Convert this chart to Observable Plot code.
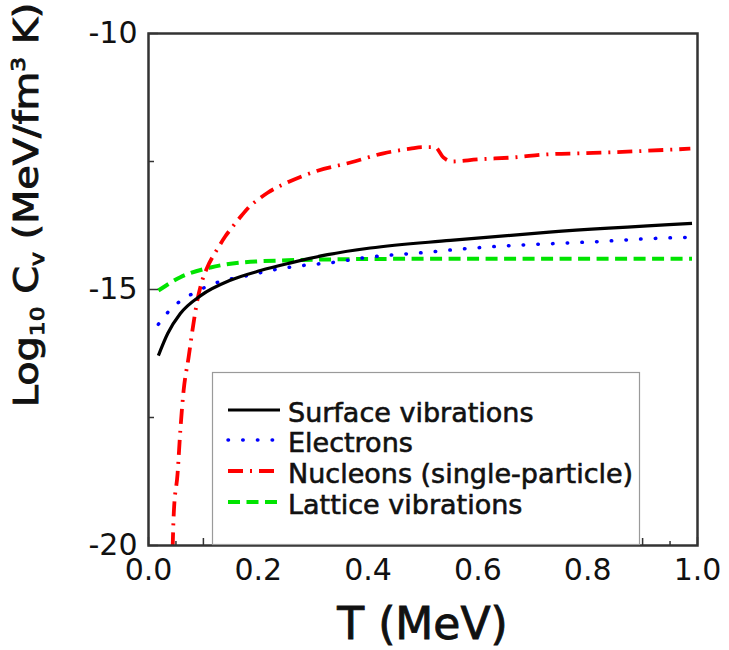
<!DOCTYPE html>
<html><head><meta charset="utf-8">
<script src="https://cdn.jsdelivr.net/npm/d3@7"></script>
<script src="https://cdn.jsdelivr.net/npm/@observablehq/plot@0.6"></script>
<style>html,body{margin:0;padding:0;background:#fff;} svg{display:block}</style>
</head><body><div id="chart"></div>
<script>
// ---- data ----
const surfaceT = [0.018, 0.035, 0.058, 0.095, 0.149, 0.204, 0.259, 0.326, 0.404, 0.55, 0.73, 0.99];
const surfaceV = [-16.29, -15.86, -15.47, -15.12, -14.82, -14.63, -14.48, -14.32, -14.19, -14.04, -13.88, -13.71];

const electronsT = [0.018, 0.035, 0.055, 0.077, 0.126, 0.18, 0.231, 0.282, 0.337, 0.40, 0.50, 0.581, 0.663, 0.745, 0.827, 0.905, 0.987];
const electronsV = [-15.68, -15.45, -15.25, -15.10, -14.86, -14.73, -14.61, -14.53, -14.47, -14.37, -14.28, -14.20, -14.14, -14.10, -14.06, -14.01, -13.98];

const nucleonsT = [0.044, 0.046, 0.053, 0.058, 0.064, 0.073, 0.080, 0.089, 0.098, 0.107, 0.126, 0.140, 0.155, 0.170, 0.186, 0.200, 0.217, 0.253, 0.308, 0.368, 0.428, 0.477, 0.500, 0.522, 0.537, 0.553, 0.599, 0.665, 0.727, 0.787, 0.847, 0.909, 0.987];
const nucleonsV = [-20.04, -19.38, -18.59, -17.75, -16.97, -16.33, -15.80, -15.21, -14.82, -14.57, -14.20, -13.96, -13.75, -13.55, -13.36, -13.24, -13.11, -12.91, -12.68, -12.52, -12.34, -12.25, -12.22, -12.22, -12.42, -12.50, -12.46, -12.42, -12.36, -12.34, -12.32, -12.29, -12.25];

const latticeT = [0.018, 0.058, 0.113, 0.173, 0.253, 0.35, 0.5, 0.7, 0.99];
const latticeV = [-15.02, -14.76, -14.57, -14.47, -14.43, -14.41, -14.40, -14.40, -14.40];

const seriesNames = ["Surface vibrations", "Electrons", "Nucleons (single-particle)", "Lattice vibrations"];

const xTickLabels = [0, 0.2, 0.4, 0.6, 0.8, 1.0];
const xTicksMid = [0.1, 0.3, 0.5, 0.7, 0.9];
const xTicksMinor = [0.05, 0.15, 0.25, 0.35, 0.45, 0.55, 0.65, 0.75, 0.85, 0.95];
const yTickLabels = [-10, -15, -20];
const yTicksMinor = [-12.5, -17.5];

// ---- layout ----
const W = 729, H = 650, mL = 148, mR = 32, mT = 33, mB = 105;
const innerW = W - mL - mR, innerH = H - mT - mB;
const FONT = "DejaVu Sans";
const INK = "#111";

const rows = (T, V) => T.map((t, i) => ({T: t, V: V[i]}));
const styles = [
  {stroke: "#000000", strokeWidth: 3.2, strokeDasharray: null, strokeLinecap: "butt"},
  {stroke: "#0000ff", strokeWidth: 3.5, strokeDasharray: "0.5 14.2", strokeLinecap: "round"},
  {stroke: "#ff0000", strokeWidth: 3.8, strokeDasharray: "15 7 2 7", strokeLinecap: "butt"},
  {stroke: "#00e400", strokeWidth: 4, strokeDasharray: "12 6.5", strokeLinecap: "butt"}
];
const datasets = [rows(surfaceT, surfaceV), rows(electronsT, electronsV), rows(nucleonsT, nucleonsV), rows(latticeT, latticeV)];

const chart = Plot.plot({
  width: W, height: H,
  marginLeft: mL, marginRight: mR, marginTop: mT, marginBottom: mB,
  style: {fontFamily: FONT, fontSize: "30px", color: INK, background: "#fff"},
  x: {domain: [0, 1]},
  y: {domain: [-20, -10]},
  marks: [
    Plot.line(datasets[3], {x: "T", y: "V", curve: "monotone-x", clip: true, ...styles[3]}),
    Plot.line(datasets[1], {x: "T", y: "V", curve: "monotone-x", clip: true, ...styles[1]}),
    Plot.line(datasets[2], {x: "T", y: "V", curve: "monotone-x", clip: true, ...styles[2]}),
    Plot.line(datasets[0], {x: "T", y: "V", curve: "monotone-x", clip: true, ...styles[0]}),
    // inward ticks
    Plot.tickX(xTickLabels, {x: d => d, insetTop: innerH - 8, stroke: "#333", strokeWidth: 1.5}),
    Plot.tickX(xTicksMid, {x: d => d, insetTop: innerH - 7, stroke: "#333", strokeWidth: 1.5}),
    Plot.tickX(xTicksMinor, {x: d => d, insetTop: innerH - 4, stroke: "#333", strokeWidth: 1.5}),
    Plot.tickY(yTickLabels, {y: d => d, insetRight: innerW - 10, stroke: "#333", strokeWidth: 1.5}),
    Plot.tickY(yTicksMinor, {y: d => d, insetRight: innerW - 6, stroke: "#333", strokeWidth: 1.5}),
    Plot.frame({stroke: "#333", strokeWidth: 2.5}),
    Plot.axisX({ticks: xTickLabels, tickFormat: d => d.toFixed(1), tickSize: 0, tickPadding: 13, label: null, fontSize: 30, stroke: INK, strokeWidth: 0.5}),
    Plot.axisY({ticks: yTickLabels, tickFormat: d => String(d), tickSize: 0, tickPadding: 11, label: null, fontSize: 30, stroke: INK, strokeWidth: 0.5})
  ]
});
document.getElementById("chart").appendChild(chart);

const svg = d3.select(chart);

// axis titles
svg.append("text")
  .attr("x", mL + innerW / 2).attr("y", 639)
  .attr("text-anchor", "middle")
  .attr("font-family", FONT).attr("font-size", 44).attr("fill", INK)
  .attr("stroke", INK).attr("stroke-width", 0.9)
  .text("T (MeV)");

const yl = svg.append("text")
  .attr("transform", "translate(38,205) rotate(-90) scale(1.17,1)")
  .attr("text-anchor", "middle")
  .attr("font-family", FONT).attr("font-size", 34).attr("fill", INK)
  .attr("stroke", INK).attr("stroke-width", 0.9);
yl.append("tspan").text("Log");
yl.append("tspan").attr("font-size", 20).attr("dy", 6).text("10");
yl.append("tspan").attr("dy", -6).text(" C");
yl.append("tspan").attr("font-size", 20).attr("dy", 6).text("v");
yl.append("tspan").attr("dy", -6).text(" (MeV/fm");
yl.append("tspan").attr("font-size", 20).attr("dy", -13).text("3");
yl.append("tspan").attr("dy", 13).text(" K)");

// legend
const lg = svg.append("g");
lg.append("rect")
  .attr("x", 212.5).attr("y", 372.5).attr("width", 427).attr("height", 172)
  .attr("fill", "#fff").attr("stroke", "#9a9a9a").attr("stroke-width", 1.2);
const baselines = [422, 452, 483, 514];
seriesNames.forEach((name, i) => {
  const s = styles[i];
  const y = baselines[i] - 12;
  lg.append("line")
    .attr("x1", 228).attr("x2", 280).attr("y1", y).attr("y2", y)
    .attr("stroke", s.stroke).attr("stroke-width", s.strokeWidth)
    .attr("stroke-dasharray", s.strokeDasharray).attr("stroke-linecap", s.strokeLinecap);
  lg.append("text")
    .attr("x", 288).attr("y", baselines[i])
    .attr("text-anchor", "start")
    .attr("font-family", FONT).attr("font-size", 27).attr("fill", INK)
    .attr("stroke", INK).attr("stroke-width", 0.6)
    .text(name);
});
</script>
</body></html>
